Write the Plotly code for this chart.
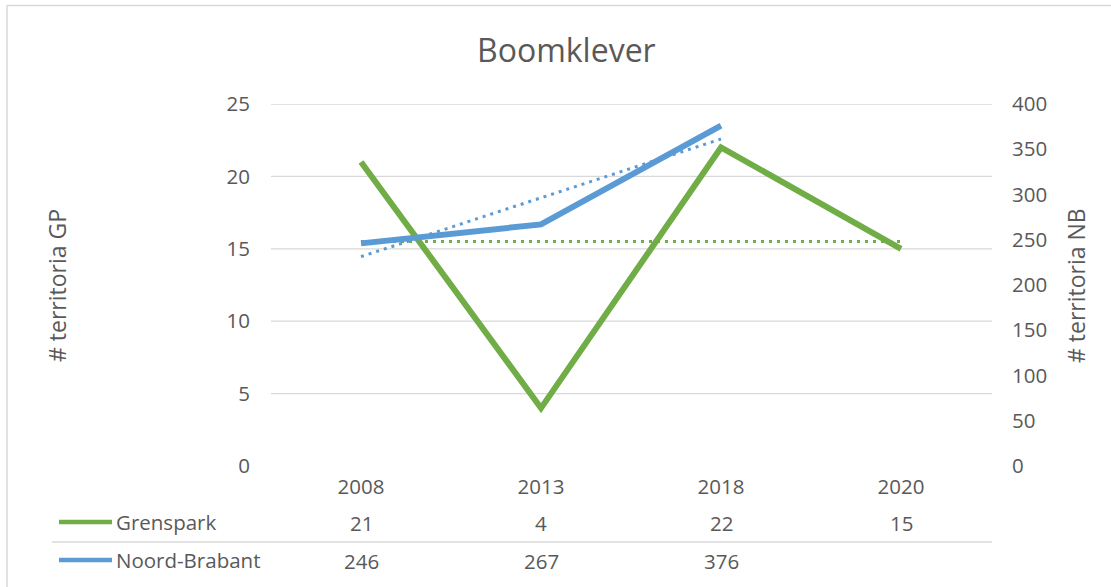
import numpy as np
import plotly.graph_objects as go

# ---- data ----
years = ["2008", "2013", "2018", "2020"]
grenspark = [21, 4, 22, 15]
noord_brabant = [246, 267, 376, None]
title_text = "Boomklever"
left_title = "# territoria GP"
right_title = "# territoria NB"
left_ticks = [0, 5, 10, 15, 20, 25]
right_ticks = [0, 50, 100, 150, 200, 250, 300, 350, 400]

W, H = 1111, 587
GREEN = "#70AD47"
BLUE = "#5B9BD5"
TXT = "#595959"
GRID = "#D9D9D9"
FONT = "Open Sans"

def px_x(p):
    return p / W

def px_y(p):
    return 1 - p / H

# linear trendlines (Excel style: x = 1..n over existing points)
def trend(vals):
    pts = [(i + 1, v) for i, v in enumerate(vals) if v is not None]
    xs = np.array([p[0] for p in pts], dtype=float)
    ys = np.array([p[1] for p in pts], dtype=float)
    m, b = np.polyfit(xs, ys, 1)
    return [years[int(x) - 1] for x in xs], list(m * xs + b)

gp_tx, gp_ty = trend(grenspark)
nb_vals = [v for v in noord_brabant if v is not None]
nb_tx, nb_ty = trend(nb_vals)

fig = go.Figure()

fig.add_trace(go.Scatter(x=years[:len(nb_vals)], y=nb_vals, mode="lines", name="Noord-Brabant",
                         line=dict(color=BLUE, width=6), yaxis="y2"))
fig.add_trace(go.Scatter(x=years, y=grenspark, mode="lines", name="Grenspark",
                         line=dict(color=GREEN, width=6), yaxis="y"))
fig.add_trace(go.Scatter(x=gp_tx, y=gp_ty, mode="lines", name="Trend GP",
                         line=dict(color=GREEN, width=3, dash="3px,5px"), yaxis="y"))
fig.add_trace(go.Scatter(x=nb_tx, y=nb_ty, mode="lines", name="Trend NB",
                         line=dict(color=BLUE, width=3, dash="3px,5px"), yaxis="y2"))

x_dom = [px_x(271), px_x(991)]
y_dom = [px_y(466), px_y(104)]

shapes = []
# gridlines from left axis ticks (except 0)
for v in left_ticks[1:]:
    shapes.append(dict(type="line", xref="paper", yref="y", x0=px_x(271), x1=px_x(992),
                       y0=v, y1=v, line=dict(color=GRID, width=1.3), layer="below"))
# data table separator
shapes.append(dict(type="line", xref="paper", yref="paper", x0=px_x(52), x1=px_x(992),
                   y0=px_y(542), y1=px_y(542), line=dict(color=GRID, width=1.3)))
# legend keys in table
for col, yy in [(GREEN, 522), (BLUE, 560)]:
    shapes.append(dict(type="line", xref="paper", yref="paper", x0=px_x(59), x1=px_x(112),
                       y0=px_y(yy), y1=px_y(yy), line=dict(color=col, width=4.5)))
# chart border (top and left visible)
shapes.append(dict(type="line", xref="paper", yref="paper", x0=px_x(7), x1=1.0,
                   y0=px_y(5.5), y1=px_y(5.5), line=dict(color=GRID, width=1.5)))
shapes.append(dict(type="line", xref="paper", yref="paper", x0=px_x(7), x1=px_x(7),
                   y0=0, y1=px_y(5.5), line=dict(color=GRID, width=1.5)))

annotations = []
annotations.append(dict(text=title_text, xref="paper", yref="paper", x=px_x(566), y=px_y(50),
                        showarrow=False, xanchor="center", yanchor="middle",
                        font=dict(family=FONT, size=32, color=TXT)))
annotations.append(dict(text=left_title, xref="paper", yref="paper", x=px_x(57), y=px_y(286),
                        showarrow=False, textangle=-90, xanchor="center", yanchor="middle",
                        font=dict(family=FONT, size=23, color=TXT)))
annotations.append(dict(text=right_title, xref="paper", yref="paper", x=px_x(1076), y=px_y(286),
                        showarrow=False, textangle=-90, xanchor="center", yanchor="middle",
                        font=dict(family=FONT, size=23, color=TXT)))
# table row labels
for name, yy in [("Grenspark", 522), ("Noord-Brabant", 560)]:
    annotations.append(dict(text=name, xref="paper", yref="paper", x=px_x(114), y=px_y(yy),
                            showarrow=False, xanchor="left", yanchor="middle",
                            font=dict(family=FONT, size=20.5, color=TXT)))
# table values (category index on the x axis)
for vals, yy in [(grenspark, 523), (noord_brabant, 561)]:
    for i, v in enumerate(vals):
        if v is None:
            continue
        annotations.append(dict(text=str(v), xref="x", yref="paper", x=i, y=px_y(yy),
                                showarrow=False, xanchor="center", yanchor="middle",
                                font=dict(family=FONT, size=20.5, color=TXT)))

fig.update_layout(
    width=W, height=H,
    margin=dict(l=0, r=0, t=0, b=0, pad=0),
    paper_bgcolor="white", plot_bgcolor="white",
    showlegend=False,
    font=dict(family=FONT, color=TXT, size=20.5),
    xaxis=dict(domain=x_dom, type="category", range=[-0.5, 3.5], showgrid=False,
               zeroline=False, showline=False, ticks="", ticklabelstandoff=6,
               automargin=False,
               tickfont=dict(family=FONT, size=20.5, color=TXT)),
    yaxis=dict(domain=y_dom, range=[0, 25], tickvals=left_ticks, showgrid=False,
               zeroline=False, showline=False, ticks="", ticklabelstandoff=20,
               automargin=False,
               tickfont=dict(family=FONT, size=20.5, color=TXT)),
    yaxis2=dict(overlaying="y", side="right", range=[0, 400], tickvals=right_ticks,
                showgrid=False, zeroline=False, showline=False, ticks="",
                automargin=False,
                ticklabelstandoff=20, tickfont=dict(family=FONT, size=20.5, color=TXT)),
    shapes=shapes,
    annotations=annotations,
)

fig.write_html("out.html", config={"displayModeBar": False},
               post_script="document.body.style.margin='0';document.body.style.overflow='hidden';")
